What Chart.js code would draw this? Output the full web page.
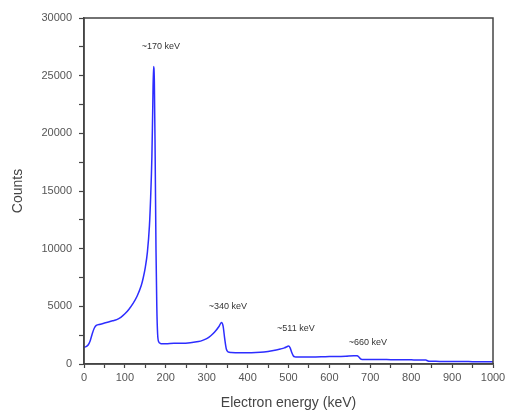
<!DOCTYPE html>
<html>
<head>
<meta charset="utf-8">
<script src="https://cdn.jsdelivr.net/npm/chart.js@4/dist/chart.umd.min.js"></script>
<style>
  html, body { margin: 0; padding: 0; background: #fff; }
  #wrap { width: 506px; height: 412px; }
</style>
</head>
<body>
<div id="wrap"><canvas id="spectrum" width="506" height="412"></canvas></div>
<script>
// spectrum
const energy = [0, 5, 10, 15, 20, 25, 30, 40, 50, 60, 70, 80, 90, 100, 110, 120, 130, 140, 145, 150,
    155, 160, 163, 166, 168, 170, 172, 174, 176, 178, 180, 183, 186, 190, 200, 220, 240, 260, 280, 290,
    300, 310, 320, 330, 336, 340, 344, 348, 352, 360, 380, 400, 420, 440, 460, 480, 490, 496, 500, 504,
    508, 512, 516, 520, 540, 560, 580, 600, 620, 640, 660, 668, 672, 676, 680, 700, 720, 740, 760, 780,
    800, 820, 836, 840, 844, 860, 880, 900, 920, 940, 960, 980, 1000];
const counts = [1450, 1500, 1650, 2000, 2600, 3100, 3350, 3450, 3550, 3650, 3750, 3850, 4050, 4350, 4750, 5250, 5900, 6800, 7500, 8400,
    9700, 12000, 14500, 18000, 22000, 25800, 24500, 18000, 10000, 5000, 2600, 1900, 1800, 1750, 1750, 1800, 1800, 1850, 1950, 2050,
    2200, 2450, 2800, 3250, 3600, 3300, 2200, 1300, 1050, 1000, 980, 980, 1000, 1050, 1150, 1300, 1400, 1500, 1550, 1400,
    1000, 700, 620, 600, 600, 610, 620, 640, 650, 680, 720, 720, 600, 450, 400, 390, 380, 380, 370, 370,
    360, 350, 340, 280, 230, 230, 220, 220, 210, 210, 200, 200, 200];

const peakLabels = ['~170 keV', '~340 keV', '~511 keV', '~660 keV'];
const peakLabelE = [188, 352, 518, 694];
const peakLabelC = [27500, 4950, 3120, 1900];

const xTicks = [0, 100, 200, 300, 400, 500, 600, 700, 800, 900, 1000];
const yTicks = [0, 5000, 10000, 15000, 20000, 25000, 30000];

const points = energy.map((e, i) => ({ x: e, y: counts[i] }));
const FONT = '"Liberation Sans", Arial, sans-serif';

// box around the plot area
const frame = {
    id: 'frame',
    afterDraw(chart) {
        const a = chart.chartArea;
        const ctx = chart.ctx;
        ctx.save();
        ctx.strokeStyle = '#444';
        ctx.lineWidth = 1.5;
        ctx.strokeRect(a.left, a.top, a.right - a.left, a.bottom - a.top);
        ctx.restore();
    }
};

// peak annotations
const peakText = {
    id: 'peakText',
    afterDatasetsDraw(chart) {
        const ctx = chart.ctx;
        const xs = chart.scales.x, ys = chart.scales.y;
        ctx.save();
        ctx.font = '9px ' + FONT;
        ctx.fillStyle = '#333';
        ctx.textAlign = 'center';
        ctx.textBaseline = 'middle';
        peakLabels.forEach((t, i) => {
            ctx.fillText(t, xs.getPixelForValue(peakLabelE[i]), ys.getPixelForValue(peakLabelC[i]));
        });
        ctx.restore();
    }
};

new Chart(document.getElementById('spectrum').getContext('2d'), {
    type: 'line',
    data: {
        datasets: [{
            data: points,
            borderColor: 'rgb(45,45,255)',
            borderWidth: 1.5,
            pointRadius: 0,
            cubicInterpolationMode: 'monotone',
            fill: false
        }]
    },
    options: {
        responsive: false,
        animation: false,
        layout: { padding: { top: 18, right: 13, left: 0, bottom: 0 } },
        plugins: { legend: { display: false }, tooltip: { enabled: false } },
        scales: {
            x: {
                type: 'linear',
                min: 0,
                max: 1000,
                afterBuildTicks(scale) {
                    const t = [];
                    for (let v = 0; v <= 1000; v += 50) t.push({ value: v });
                    scale.ticks = t;
                },
                afterFit(scale) {
                    scale.height = 48;
                    scale.paddingRight = 0;
                },
                ticks: {
                    autoSkip: false,
                    maxRotation: 0,
                    padding: 3,
                    color: '#555',
                    font: { family: FONT, size: 11 },
                    callback: v => xTicks.includes(v) ? String(v) : ''
                },
                grid: { drawOnChartArea: false, tickLength: 4, tickColor: '#444', tickWidth: 1.2 },
                border: { color: '#444', width: 1.5 },
                title: {
                    display: true,
                    text: 'Electron energy (keV)',
                    color: '#444',
                    padding: { top: 0, bottom: 0 },
                    font: { family: FONT, size: 14 }
                }
            },
            y: {
                type: 'linear',
                min: 0,
                max: 30000,
                afterBuildTicks(scale) {
                    const t = [];
                    for (let v = 0; v <= 30000; v += 2500) t.push({ value: v });
                    scale.ticks = t;
                },
                afterFit(scale) { scale.width = 84; },
                ticks: {
                    autoSkip: false,
                    padding: 7,
                    color: '#555',
                    font: { family: FONT, size: 11 },
                    callback: v => yTicks.includes(v) ? String(v) : ''
                },
                grid: { drawOnChartArea: false, tickLength: 5, tickColor: '#444', tickWidth: 1.2 },
                border: { color: '#444', width: 1.5 },
                title: {
                    display: true,
                    text: 'Counts',
                    color: '#444',
                    padding: { top: 10, bottom: 0 },
                    font: { family: FONT, size: 14 }
                }
            }
        }
    },
    plugins: [frame, peakText]
});
</script>
</body>
</html>
